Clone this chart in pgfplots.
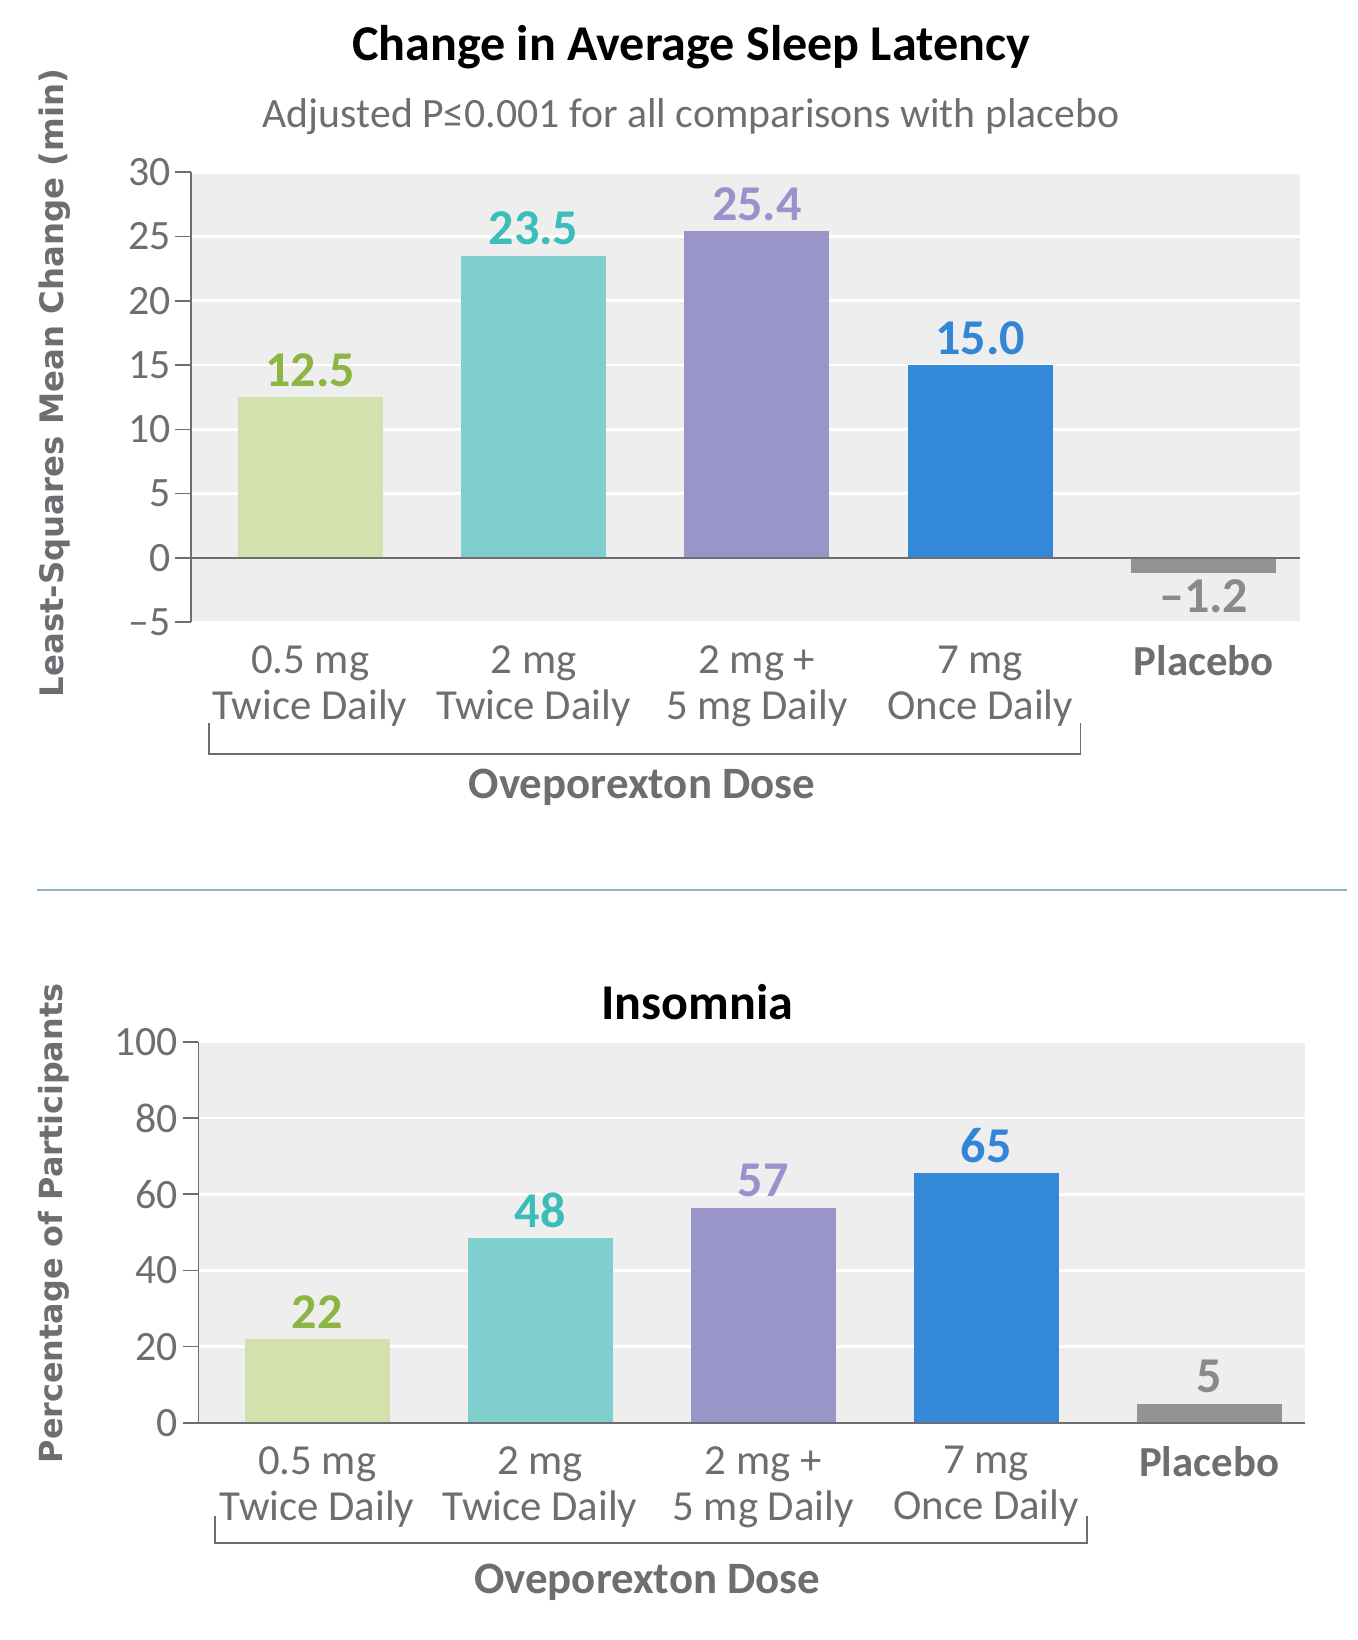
\documentclass[border=0pt]{standalone}
\usepackage{pgfplots}
\pgfplotsset{compat=1.18}
\usepackage{fontspec}
\setmainfont{Carlito}
\newfontfamily\labfont{DejaVu Sans}
\definecolor{bggray}{HTML}{EEEEEE}
\definecolor{axgray}{HTML}{6D6E71}
\definecolor{txtgray}{HTML}{6D6E71}
\definecolor{barA}{HTML}{D2E1AE}
\definecolor{barB}{HTML}{80CFCF}
\definecolor{barC}{HTML}{9A95C8}
\definecolor{barD}{HTML}{3388D8}
\definecolor{barE}{HTML}{939393}
\definecolor{labA}{HTML}{8DB543}
\definecolor{labB}{HTML}{3BBDB9}
\definecolor{labC}{HTML}{9A92CC}
\definecolor{labD}{HTML}{3386D6}
\definecolor{labE}{HTML}{8A8A8A}
\definecolor{sepcol}{HTML}{8EB4C5}

\pgfplotsset{
  mybars/.style={
    scale only axis,
    xmin=-0.533, xmax=4.43,
    axis background/.style={fill=bggray},
    axis line style={draw=none},
    ymajorgrids, grid style={white, line width=2.5pt},
    xtick={0,1,2,3,4},
    xticklabels={{0.5 mg\\Twice Daily},{2 mg\\Twice Daily},{2 mg +\\5 mg Daily},{7 mg\\Once Daily},{\textbf{Placebo}}},
    xticklabel style={align=center, font=\fontsize{41}{44}\selectfont, text=txtgray, yshift=-4pt},
    xtick style={draw=none},
    tick pos=left, tick align=outside,
    major tick length=15pt,
    ytick style={draw=axgray, line width=1.6pt},
    yticklabel style={font=\fontsize{40}{44}\selectfont, text=txtgray, xshift=-1pt},
    /pgf/number format/assume math mode=true,
    ybar, bar shift=0pt, bar width=139pt,
    every node near coord/.append style={font=\bfseries\fontsize{48}{52}\selectfont, inner sep=10pt},
    clip=false,
  },
}

\begin{document}
\begin{tikzpicture}[x=1pt,y=1pt]
\path[use as bounding box] (0,0) rectangle (1300,1571);

% titles
\node[font=\bfseries\fontsize{48}{54}\selectfont, text=black] at (662,1526) {Change in Average Sleep Latency};
\node[font=\fontsize{40}{46}\selectfont, text=txtgray] at (662,1459) {Adjusted P≤0.001 for all comparisons with placebo};

\begin{axis}[mybars, at={(183pt,975pt)}, anchor=south west,
  width=1062pt, height=431pt,
  ymin=-5, ymax=30, ytick={-5,0,5,10,15,20,25,30},
  yticklabels={–5,0,5,10,15,20,25,30}]
\addplot[fill=barA, draw=none, nodes near coords={12.5}, nodes near coords style={text=labA}] coordinates {(0,12.5)};
\addplot[fill=barB, draw=none, nodes near coords={23.5}, nodes near coords style={text=labB}] coordinates {(1,23.5)};
\addplot[fill=barC, draw=none, nodes near coords={25.4}, nodes near coords style={text=labC}] coordinates {(2,25.4)};
\addplot[fill=barD, draw=none, nodes near coords={15.0}, nodes near coords style={text=labD}] coordinates {(3,15.0)};
\addplot[fill=barE, draw=none, nodes near coords={–1.2}, nodes near coords style={text=labE, inner sep=6pt}] coordinates {(4,-1.2)};
\draw[axgray, line width=1.6pt] (rel axis cs:0,0) -- (rel axis cs:0,1);
\draw[axgray, line width=2pt] (axis cs:-0.533,0) -- (axis cs:4.43,0);
\end{axis}

% bracket top
\draw[axgray, line width=1.6pt] (200,878) -- (200,849) -- (1035,849) -- (1035,878);
\node[font=\bfseries\fontsize{43}{48}\selectfont, text=txtgray] at (615,817) {Oveporexton Dose};
\node[font=\labfont\bfseries\fontsize{31}{36}\selectfont, text=txtgray, rotate=90] at (52,1204) {Least-Squares Mean Change (min)};

% separator
\draw[sepcol, line width=2pt] (35,718) -- (1290,718);

% bottom chart
\node[font=\bfseries\fontsize{48}{54}\selectfont, text=black] at (668,611) {Insomnia};

\begin{axis}[mybars, at={(190pt,208pt)}, anchor=south west,
  width=1060pt, height=365pt,
  ymin=0, ymax=100, ytick={0,20,40,60,80,100}]
\addplot[fill=barA, draw=none, nodes near coords={22}, nodes near coords style={text=labA}] coordinates {(0,22)};
\addplot[fill=barB, draw=none, nodes near coords={48}, nodes near coords style={text=labB}] coordinates {(1,48.5)};
\addplot[fill=barC, draw=none, nodes near coords={57}, nodes near coords style={text=labC}] coordinates {(2,56.5)};
\addplot[fill=barD, draw=none, nodes near coords={65}, nodes near coords style={text=labD}] coordinates {(3,65.5)};
\addplot[fill=barE, draw=none, nodes near coords={5}, nodes near coords style={text=labE}] coordinates {(4,5)};
\draw[axgray, line width=1.6pt] (rel axis cs:0,0) -- (rel axis cs:0,1);
\draw[axgray, line width=2pt] (axis cs:-0.533,0) -- (axis cs:4.43,0);
\end{axis}

\draw[axgray, line width=1.6pt] (206,119) -- (206,93) -- (1041,93) -- (1041,119);
\node[font=\bfseries\fontsize{43}{48}\selectfont, text=txtgray] at (620,55) {Oveporexton Dose};
\node[font=\labfont\bfseries\fontsize{30.5}{36}\selectfont, text=txtgray, rotate=90] at (52,399) {Percentage of Participants};
\end{tikzpicture}
\end{document}
